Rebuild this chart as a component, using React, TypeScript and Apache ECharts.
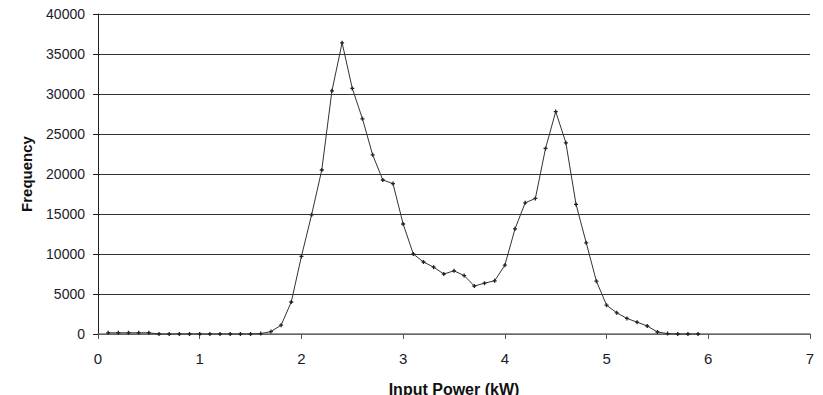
import React, { useEffect, useRef } from "react";
import * as echarts from "echarts";

const inputPower = [
  0.1, 0.2, 0.3, 0.4, 0.5, 0.6, 0.7, 0.8, 0.9, 1.0,
  1.1, 1.2, 1.3, 1.4, 1.5, 1.6, 1.7, 1.8, 1.9, 2.0,
  2.1, 2.2, 2.3, 2.4, 2.5, 2.6, 2.7, 2.8, 2.9, 3.0,
  3.1, 3.2, 3.3, 3.4, 3.5, 3.6, 3.7, 3.8, 3.9, 4.0,
  4.1, 4.2, 4.3, 4.4, 4.5, 4.6, 4.7, 4.8, 4.9, 5.0,
  5.1, 5.2, 5.3, 5.4, 5.5, 5.6, 5.7, 5.8, 5.9,
];

const frequency = [
  150, 150, 150, 150, 150, 0, 0, 0, 0, 0,
  0, 0, 0, 0, 0, 50, 300, 1100, 4000, 9700,
  14900, 20500, 30400, 36400, 30700, 26900, 22400, 19250, 18800, 13750,
  10000, 9000, 8350, 7500, 7900, 7300, 6000, 6350, 6650, 8600,
  13150, 16400, 16950, 23200, 27800, 23900, 16200, 11400, 6600, 3600,
  2650, 1950, 1480, 1000, 250, 50, 0, 0, 0,
];

const xTitle = "Input Power (kW)";
const yTitle = "Frequency";

export default function App() {
  const ref = useRef<HTMLDivElement>(null);
  useEffect(() => {
    if (!ref.current) return;
    const chart = echarts.init(ref.current, null, { renderer: "svg" });
    const font = "'Liberation Sans', Arial, sans-serif";
    chart.setOption({
      animation: false,
      backgroundColor: "#fff",
      grid: {
        left: 98,
        right: 13,
        top: 14,
        bottom: 61,
        containLabel: false,
        outerBoundsMode: "none",
      },
      xAxis: {
        type: "value",
        min: 0,
        max: 7,
        interval: 1,
        name: xTitle,
        nameLocation: "middle",
        nameGap: 47,
        nameTextStyle: { fontFamily: font, fontSize: 16, fontWeight: "bold", color: "#111" },
        axisLine: { show: true, onZero: false, lineStyle: { color: "#777", width: 1.5 } },
        axisTick: { show: true, length: 5, inside: false, lineStyle: { color: "#555" } },
        axisLabel: { fontFamily: font, fontSize: 15, color: "#1a1a2a", margin: 17 },
        splitLine: { show: false },
      },
      yAxis: {
        type: "value",
        min: 0,
        max: 40000,
        interval: 5000,
        name: yTitle,
        nameLocation: "middle",
        nameGap: 64,
        nameTextStyle: { fontFamily: font, fontSize: 15, fontWeight: "bold", color: "#111" },
        axisLine: { show: true, lineStyle: { color: "#222", width: 1 } },
        axisTick: { show: true, length: 5, inside: false, lineStyle: { color: "#222" } },
        axisLabel: {
          fontFamily: font,
          fontSize: 14,
          color: "#1a1a2a",
          margin: 13,
          formatter: (v: number) => String(v),
        },
        splitLine: { show: true, lineStyle: { color: "#333", width: 1 } },
      },
      series: [
        {
          type: "line",
          data: inputPower.map((x, i) => [x, frequency[i]]),
          symbol: "path://M1,0H2V1H3V2H2V3H1V2H0V1H1Z",
          symbolSize: 4,
          showSymbol: true,
          lineStyle: { color: "#333", width: 1 },
          itemStyle: { color: "#222" },
        },
      ],
    });
    return () => chart.dispose();
  }, []);
  return (
    <div
      ref={ref}
      style={{ position: "fixed", left: 0, top: 0, width: 823, height: 395 }}
    />
  );
}
